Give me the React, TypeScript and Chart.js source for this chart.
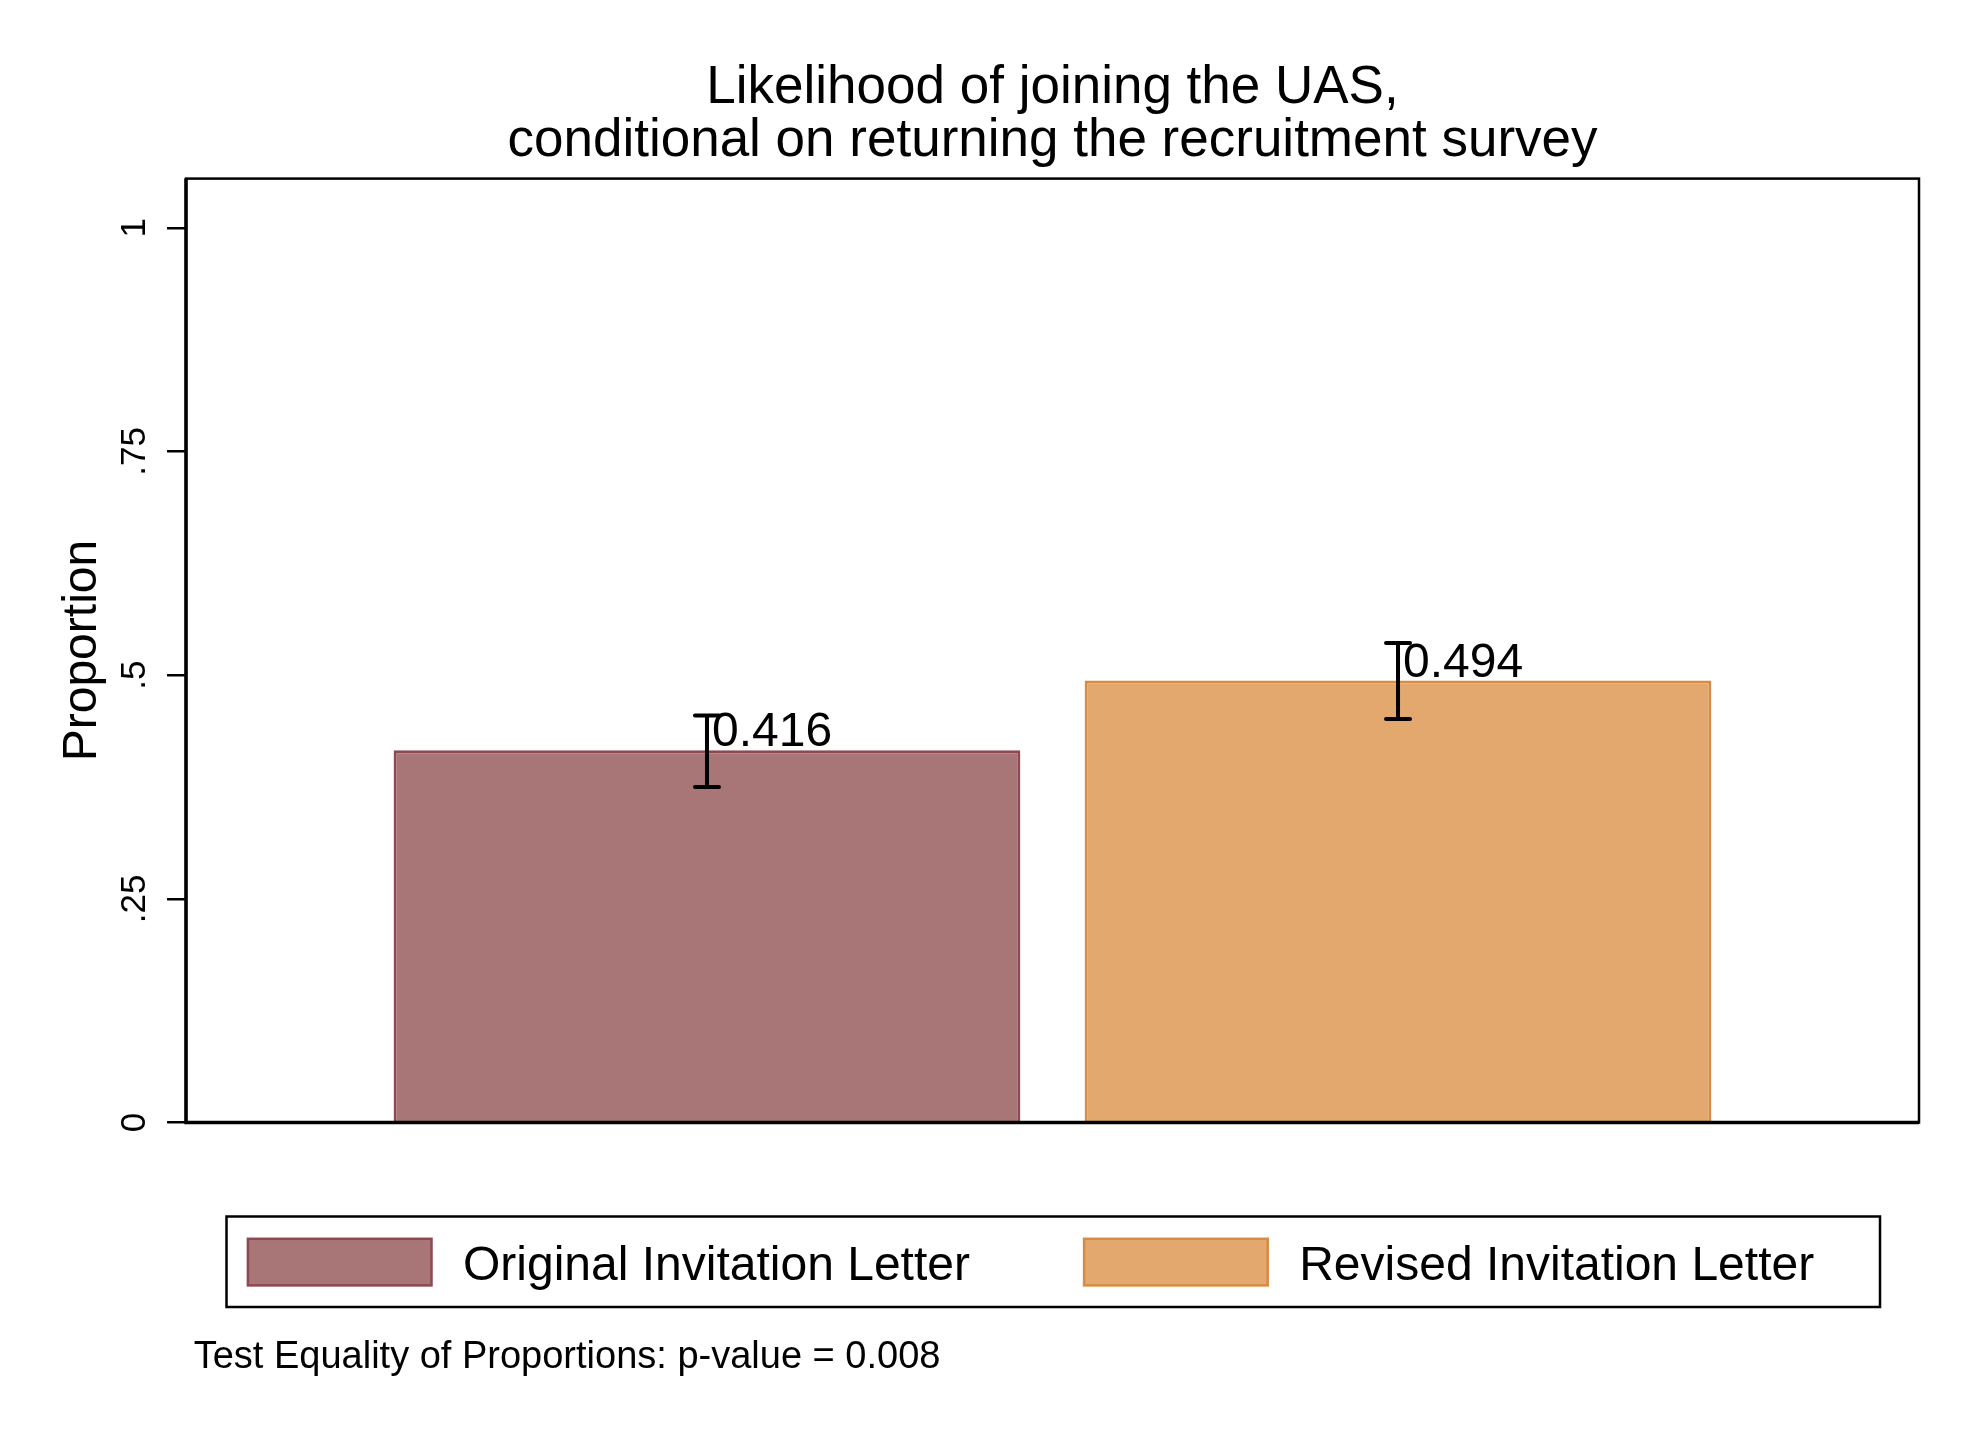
import { useEffect, useRef } from 'react';
import { Chart, registerables, type Plugin } from 'chart.js';

Chart.register(...registerables);

// data
const groups = ['Original Invitation Letter', 'Revised Invitation Letter'];
const proportions = [0.416, 0.494];
const ciLower = [0.375, 0.451];
const ciUpper = [0.455, 0.536];
const valueLabels = ['0.416', '0.494'];
const yTickValues = [0, 0.25, 0.5, 0.75, 1];
const yTickLabels = ['0', '.25', '.5', '.75', '1'];
const titleLines = ['Likelihood of joining the UAS,', 'conditional on returning the recruitment survey'];
const yTitle = 'Proportion';
const noteText = 'Test Equality of Proportions: p-value = 0.008';

const fillColors = ['#a87676', '#e2a86e'];
const edgeColors = ['#8e4851', '#d98b44'];

const FONT = "'Liberation Sans', Arial, Helvetica, sans-serif";

const stataExtras: Plugin<'bar'> = {
    id: 'stataExtras',
    afterDatasetsDraw(chart) {
        const { ctx } = chart;
        const y = chart.scales.y;
        ctx.save();
        chart.data.datasets.forEach((_, i) => {
            const bar = chart.getDatasetMeta(i).data[0];
            if (!bar) return;
            const x = bar.x;
            const yHi = y.getPixelForValue(ciUpper[i]);
            const yLo = y.getPixelForValue(ciLower[i]);
            // error bar
            ctx.strokeStyle = '#000';
            ctx.lineWidth = 4;
            ctx.lineCap = 'round';
            ctx.beginPath();
            ctx.moveTo(x, yHi);
            ctx.lineTo(x, yLo);
            ctx.moveTo(x - 12, yHi);
            ctx.lineTo(x + 12, yHi);
            ctx.moveTo(x - 12, yLo);
            ctx.lineTo(x + 12, yLo);
            ctx.stroke();
            // value label
            ctx.fillStyle = '#000';
            ctx.font = `48px ${FONT}`;
            ctx.textAlign = 'left';
            ctx.textBaseline = 'alphabetic';
            ctx.fillText(valueLabels[i], x + 5, y.getPixelForValue(proportions[i]) - 4);
        });
        ctx.restore();
    },
    afterDraw(chart) {
        const { ctx, chartArea: a } = chart;
        ctx.save();
        // plot frame
        ctx.strokeStyle = '#000';
        ctx.lineWidth = 2.5;
        ctx.strokeRect(a.left, a.top, a.right - a.left, a.bottom - a.top);
        ctx.lineWidth = 3.5;
        ctx.beginPath();
        ctx.moveTo(a.left, a.top);
        ctx.lineTo(a.left, a.bottom);
        ctx.lineTo(a.right, a.bottom);
        ctx.stroke();

        // legend
        const lx = a.left + 40.5;
        const ly = a.bottom + 94;
        const lw = a.right - 39 - lx;
        const lh = 90.5;
        ctx.lineWidth = 2.5;
        ctx.strokeRect(lx, ly, lw, lh);
        ctx.font = `48px ${FONT}`;
        ctx.textAlign = 'left';
        ctx.textBaseline = 'middle';
        chart.data.datasets.forEach((ds, i) => {
            const sx = lx + 21.4 + i * 836.2;
            const sy = ly + 22.3;
            ctx.fillStyle = fillColors[i];
            ctx.fillRect(sx, sy, 183.6, 46.6);
            ctx.strokeStyle = edgeColors[i];
            ctx.lineWidth = 2.5;
            ctx.strokeRect(sx, sy, 183.6, 46.6);
            ctx.fillStyle = '#000';
            ctx.fillText(String(ds.label), sx + 183.6 + 31.5, sy + 28);
        });

        // note
        ctx.font = `38px ${FONT}`;
        ctx.fillStyle = '#000';
        ctx.fillText(noteText, a.left + 7.7, a.bottom + 235);
        ctx.restore();
    }
};

const App = () => {
    const canvas = useRef<HTMLCanvasElement>(null);

    useEffect(() => {
        if (!canvas.current) return;
        const chart = new Chart(canvas.current, {
            type: 'bar',
            data: {
                labels: [''],
                datasets: groups.map((g, i) => ({
                    label: g,
                    data: [proportions[i]],
                    backgroundColor: fillColors[i],
                    borderColor: edgeColors[i],
                    borderWidth: 3,
                    categoryPercentage: 0.7975,
                    barPercentage: 0.907,
                })),
            },
            options: {
                responsive: false,
                animation: false,
                events: [],
                layout: {
                    padding: { top: 0, left: 0, right: 53, bottom: 311.5 }
                },
                plugins: {
                    legend: { display: false },
                    tooltip: { enabled: false },
                    title: {
                        display: true,
                        fullSize: false,
                        text: titleLines,
                        color: '#000',
                        font: { family: FONT, size: 53, weight: 'normal', lineHeight: 1 },
                        padding: { top: 62, bottom: 10.6 },
                    },
                },
                scales: {
                    x: {
                        display: false,
                    },
                    y: {
                        min: 0,
                        max: 1.055,
                        border: { display: false },
                        grid: {
                            drawOnChartArea: false,
                            drawTicks: true,
                            tickLength: 19,
                            lineWidth: 2.5,
                            color: '#000',
                        },
                        afterBuildTicks: (scale) => {
                            scale.ticks = yTickValues.map(v => ({ value: v }));
                        },
                        afterFit: (scale) => {
                            scale.width = 186;
                        },
                        ticks: {
                            color: '#000',
                            font: { family: FONT, size: 35 },
                            minRotation: 90,
                            maxRotation: 90,
                            crossAlign: 'center',
                            padding: 7,
                            callback: (value) => {
                                const idx = yTickValues.indexOf(Number(value));
                                return idx >= 0 ? yTickLabels[idx] : '';
                            },
                        },
                        title: {
                            display: true,
                            text: yTitle,
                            color: '#000',
                            font: { family: FONT, size: 48, lineHeight: 1 },
                            padding: { top: 59, bottom: 0 },
                        },
                    },
                },
            },
            plugins: [stataExtras],
        });

        return () => {
            chart.destroy();
        };
    }, []);

    return (
        <div style={{ position: 'absolute', left: 0, top: 0, width: 1972, height: 1434, background: '#fff' }}>
            <canvas
                ref={canvas}
                width={1972}
                height={1434}
                style={{ display: 'block' }}
                role="img"
                aria-label="Likelihood of joining the UAS, conditional on returning the recruitment survey"
            ></canvas>
        </div>
    );
};

export default App;
